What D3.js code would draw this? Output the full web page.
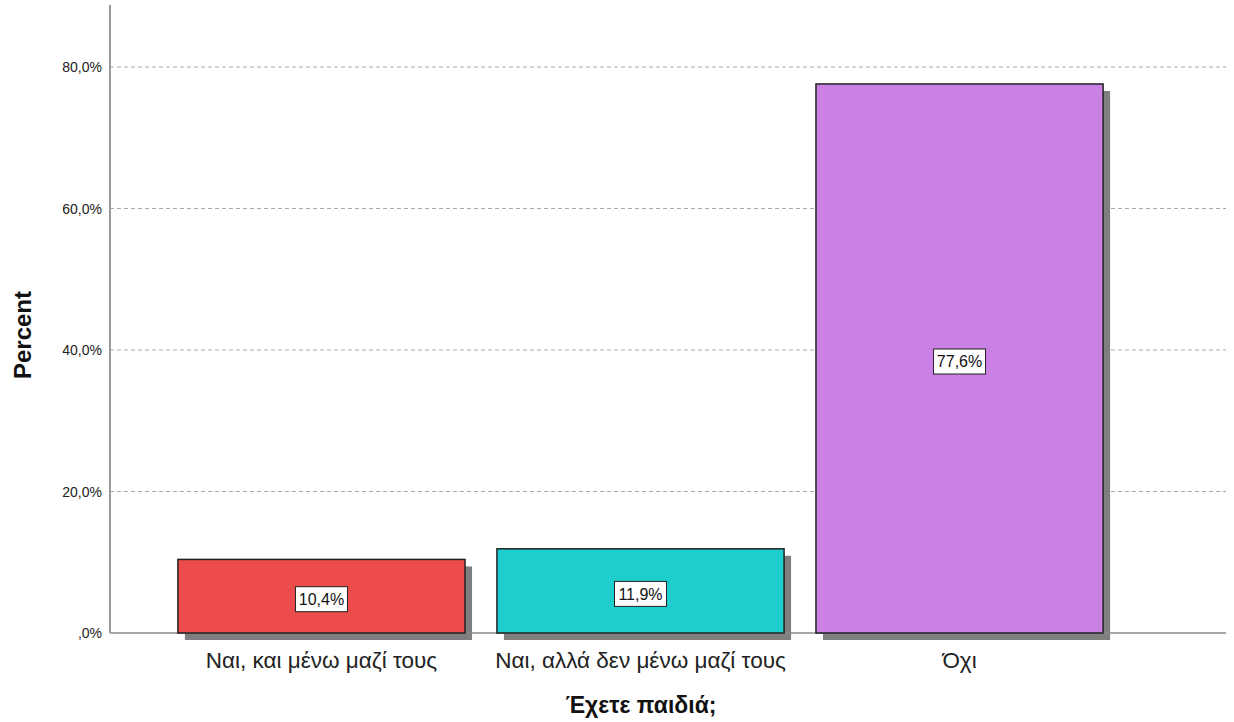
<!DOCTYPE html>
<html><head><meta charset="utf-8">
<script src="https://cdn.jsdelivr.net/npm/d3@7"></script>
<style>body{margin:0;background:#fff}svg{display:block}text{font-family:"Liberation Sans",Arial,sans-serif}</style>
</head><body><svg id="c" width="1234" height="722"></svg>
<script>
const categories = ["Ναι, και μένω μαζί τους", "Ναι, αλλά δεν μένω μαζί τους", "Όχι"];
const values = [10.4, 11.9, 77.6];
const colors = ["#ec4c4c", "#1ecdcd", "#ca80e5"];
const yTicks = [0, 20, 40, 60, 80];
const fmt = v => (v === 0 ? ",0%" : v.toFixed(1).replace(".", ",") + "%");

const svg = d3.select("#c");
const y = d3.scaleLinear().domain([0, 80]).range([633, 67]);
const x = d3.scaleBand().domain(categories).range([146, 1135]).padding(0.1);
const axL = 110, axR = 1226;

// gridlines
svg.append("g").selectAll("line").data(yTicks.filter(t => t > 0)).join("line")
  .attr("x1", axL).attr("x2", axR).attr("y1", d => y(d)).attr("y2", d => y(d))
  .attr("stroke", "#a8a8a8").attr("stroke-width", 1).attr("stroke-dasharray", "4,3");

// y tick labels
svg.append("g").selectAll("text").data(yTicks).join("text")
  .attr("x", 102).attr("y", d => y(d)).attr("dy", "0.36em").attr("text-anchor", "end")
  .attr("font-size", 14).attr("fill", "#222").text(fmt);

// shadows
const off = 7;
svg.append("g").selectAll("rect").data(values).join("rect")
  .attr("x", (d, i) => x(categories[i]) + off).attr("y", d => y(d) + off)
  .attr("width", x.bandwidth()).attr("height", d => y(0) - y(d))
  .attr("fill", "#7f7f7f");

// axes lines
svg.append("line").attr("x1", axL).attr("x2", axR).attr("y1", y(0)).attr("y2", y(0))
  .attr("stroke", "#8a8a8a").attr("stroke-width", 1.5);
svg.append("line").attr("x1", axL).attr("x2", axL).attr("y1", 5).attr("y2", y(0))
  .attr("stroke", "#9a9a9a").attr("stroke-width", 2);

// bars
svg.append("g").selectAll("rect").data(values).join("rect")
  .attr("x", (d, i) => x(categories[i])).attr("y", d => y(d))
  .attr("width", x.bandwidth()).attr("height", d => y(0) - y(d))
  .attr("fill", (d, i) => colors[i]).attr("stroke", "#222").attr("stroke-width", 1.5);

// data labels
const lg = svg.append("g").selectAll("g").data(values).join("g")
  .attr("transform", (d, i) => `translate(${x(categories[i]) + x.bandwidth() / 2},${(y(d) + y(0)) / 2 + 3})`);
lg.append("rect").attr("x", -26).attr("y", -12.5).attr("width", 52).attr("height", 25)
  .attr("fill", "#fff").attr("stroke", "#222").attr("stroke-width", 1);
lg.append("text").attr("text-anchor", "middle").attr("dy", "0.36em")
  .attr("font-size", 16).attr("fill", "#111").text(d => d.toFixed(1).replace(".", ",") + "%");

// x category labels
svg.append("g").selectAll("text").data(categories).join("text")
  .attr("x", d => x(d) + x.bandwidth() / 2).attr("y", 668).attr("text-anchor", "middle")
  .attr("font-size", 22.5).attr("fill", "#222").text(d => d);

// axis titles
svg.append("text").attr("x", 641).attr("y", 713).attr("text-anchor", "middle")
  .attr("font-size", 23).attr("font-weight", "bold").attr("fill", "#111").text("Έχετε παιδιά;");
svg.append("text").attr("transform", "translate(31,335) rotate(-90)").attr("text-anchor", "middle")
  .attr("font-size", 24).attr("font-weight", "bold").attr("fill", "#111").text("Percent");
</script></body></html>
